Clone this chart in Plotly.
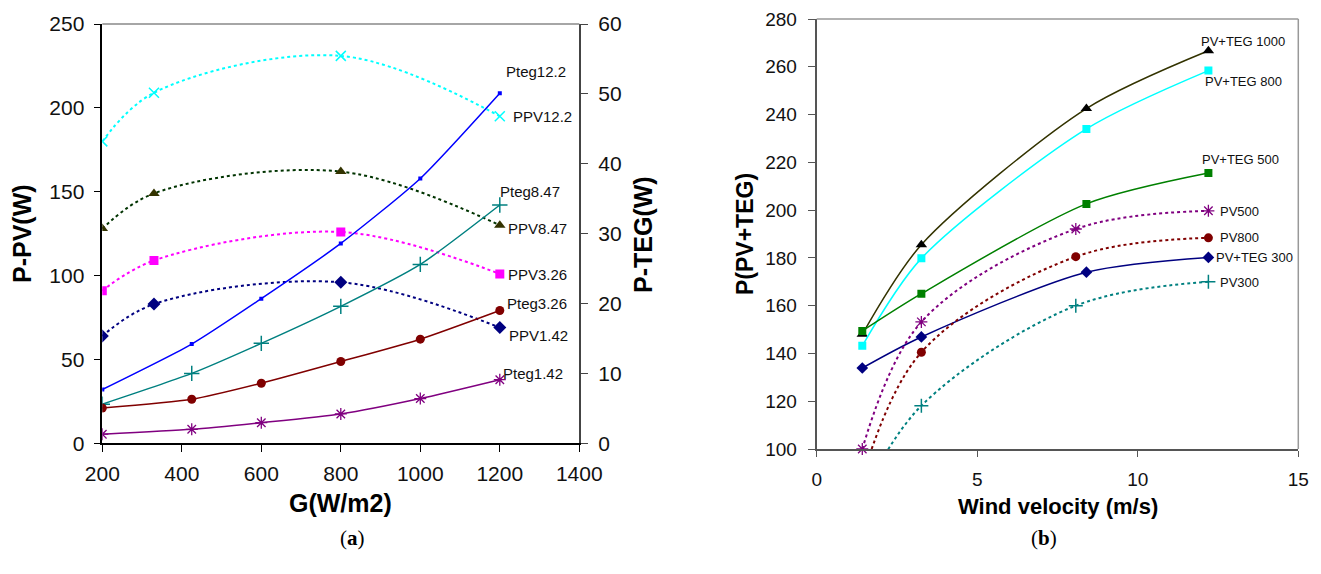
import plotly.graph_objects as go

# ---------------- data: chart (a) ----------------
G_ppv = [200, 330, 800, 1200]
ppv_12_2 = [180, 209, 231, 195]
ppv_8_47 = [128, 149, 162, 130]
ppv_3_26 = [91, 109, 126, 101]
ppv_1_42 = [64, 83, 96, 69]

G_teg = [200, 425, 600, 800, 1000, 1200]
pteg_12_2 = [7.7, 14.2, 20.7, 28.6, 37.9, 50.1]
pteg_8_47 = [5.6, 10.0, 14.3, 19.6, 25.6, 34.1]
pteg_3_26 = [5.05, 6.3, 8.6, 11.7, 14.9, 19.0]
pteg_1_42 = [1.3, 2.0, 2.95, 4.2, 6.4, 9.1]

# ---------------- data: chart (b) ----------------
v_teg = [1.42, 3.26, 8.4, 12.2]
v_pv = [1.42, 3.26, 8.07, 12.2]
pvteg_1000 = [148, 185.5, 242.5, 266.7]
pvteg_800 = [143.2, 179.8, 234, 258.4]
pvteg_500 = [149.4, 165, 202.6, 215.5]
pvteg_300 = [133.9, 146.9, 174, 180.2]
pv_500 = [100, 153.2, 192.1, 199.7]
pv_800 = [88, 140.5, 180.5, 188.4]
pv_300 = [80, 118.1, 160, 170]

W, H = 1321, 574
FONT = "Liberation Sans, Arial, sans-serif"


def px(x, y):
    return x / W, 1 - y / H


fig = go.Figure()


def add(x, y, color, symbol, msize, dash, xa, ya, mcolor=None, lw=1.5,
        smooth=1.0, clip=True, mline=None):
    marker = dict(symbol=symbol, size=msize, color=mcolor or color)
    if mline:
        marker["line"] = dict(color=mcolor or color, width=mline)
    fig.add_trace(go.Scatter(
        x=x, y=y, mode="lines+markers", xaxis=xa, yaxis=ya,
        line=dict(color=color, width=lw, dash=dash, shape="spline", smoothing=smooth),
        marker=marker, showlegend=False, cliponaxis=clip))


# chart (a) - PV power (left axis), dotted
add(G_ppv, ppv_12_2, "#00FFFF", "x-thin-open", 10, "dot", "x", "y", lw=2, mline=1.5)
add(G_ppv, ppv_8_47, "#003300", "triangle-up", 10, "dot", "x", "y", mcolor="#333300", lw=2)
add(G_ppv, ppv_3_26, "#FF00FF", "square", 9, "dot", "x", "y", lw=2)
add(G_ppv, ppv_1_42, "#000080", "diamond", 10, "dot", "x", "y", lw=2)
# chart (a) - TEG power (right axis), solid
add(G_teg, pteg_12_2, "#0000FF", "square", 4, "solid", "x", "y2", smooth=0.6)
add(G_teg, pteg_8_47, "#008080", "cross-thin-open", 11, "solid", "x", "y2", smooth=0.6, mline=1.5)
add(G_teg, pteg_3_26, "#800000", "circle", 9, "solid", "x", "y2", smooth=0.6)
add(G_teg, pteg_1_42, "#800080", "asterisk-open", 10, "solid", "x", "y2", smooth=0.6, mline=1.3)

# chart (b)
add(v_teg, pvteg_1000, "#333300", "triangle-up", 10, "solid", "x2", "y3", mcolor="#000000", smooth=0.8)
add(v_teg, pvteg_800, "#00FFFF", "square", 8, "solid", "x2", "y3", smooth=0.8)
add(v_teg, pvteg_500, "#008000", "square", 8, "solid", "x2", "y3", smooth=0.8)
add(v_teg, pvteg_300, "#000080", "diamond", 9, "solid", "x2", "y3", smooth=0.8)
add(v_pv, pv_500, "#800080", "asterisk-open", 10, "dot", "x2", "y3", lw=2, clip=False, mline=1.3)
add(v_pv, pv_800, "#800000", "circle", 9, "dot", "x2", "y3", lw=2)
add(v_pv, pv_300, "#008080", "cross-thin-open", 10, "dot", "x2", "y3", lw=2, mline=1.5)

tickfont_a = dict(family=FONT, size=21, color="#111")
tickfont_b = dict(family=FONT, size=19, color="#111")

xa0, ya0 = px(102.3, 443.3)
xa1, ya1 = px(579.3, 24)
xb0, yb0 = px(816.7, 449)
xb1, yb1 = px(1298.3, 19)

fig.update_layout(
    width=W, height=H, margin=dict(l=0, r=0, t=0, b=0, autoexpand=False),
    paper_bgcolor="white", plot_bgcolor="white",
    xaxis=dict(domain=[xa0, xa1], range=[200, 1400], dtick=200, anchor="y",
               showgrid=False, zeroline=False, showline=True, linecolor="black",
               linewidth=1.5, ticks="outside", ticklen=7, tickcolor="black",
               tickfont=tickfont_a, ticklabelstandoff=4, automargin=False),
    yaxis=dict(domain=[ya0, ya1], range=[0, 250], dtick=50, anchor="x",
               showgrid=False, zeroline=False, showline=True, linecolor="black",
               linewidth=1.5, ticks="outside", ticklen=7, tickcolor="black",
               tickfont=tickfont_a, ticklabelstandoff=5, automargin=False),
    yaxis2=dict(overlaying="y", side="right", range=[0, 60], dtick=10, anchor="x",
                showgrid=False, zeroline=False, showline=True, linecolor="#444",
                linewidth=1.5, ticks="outside", ticklen=7, tickcolor="#444",
                tickfont=tickfont_a, ticklabelstandoff=6, automargin=False),
    xaxis2=dict(domain=[xb0, xb1], range=[0, 15], dtick=5, anchor="y3",
                showgrid=False, zeroline=False, showline=True, linecolor="#555",
                linewidth=2, ticks="outside", ticklen=6, tickcolor="#555",
                tickfont=tickfont_b, ticklabelstandoff=6, automargin=False),
    yaxis3=dict(domain=[yb0, yb1], range=[100, 280], dtick=20, anchor="x2",
                showgrid=False, zeroline=False, showline=True, linecolor="#555",
                linewidth=2, ticks="outside", ticklen=7, tickcolor="#555",
                tickfont=tickfont_b, ticklabelstandoff=7, automargin=False),
)

# frame lines (top of chart a, top/right of chart b)
fig.add_shape(type="line", xref="paper", yref="paper", x0=xa0, x1=xa1, y0=ya1, y1=ya1,
              line=dict(color="#888", width=1.5))
fig.add_shape(type="line", xref="paper", yref="paper", x0=xb0, x1=xb1, y0=yb1, y1=yb1,
              line=dict(color="#999", width=1.5))
fig.add_shape(type="line", xref="paper", yref="paper", x0=xb1, x1=xb1, y0=yb0, y1=yb1,
              line=dict(color="#999", width=1.5))


def label(text, x, y, size=15, bold=False, angle=0, family=FONT, color="#111"):
    ax, ay = px(x, y)
    fig.add_annotation(text=f"<b>{text}</b>" if bold else text, x=ax, y=ay,
                       xref="paper", yref="paper", showarrow=False, textangle=angle,
                       xanchor="center", yanchor="middle",
                       font=dict(family=family, size=size, color=color))


# series labels chart (a)
for t, x, y in [("Pteg12.2", 536, 72), ("PPV12.2", 542, 116), ("Pteg8.47", 530, 191),
                ("PPV8.47", 537, 229), ("PPV3.26", 537, 274), ("Pteg3.26", 537, 303),
                ("PPV1.42", 538, 335), ("Pteg1.42", 533, 373)]:
    label(t, x, y, size=15)

# series labels chart (b)
for t, x, y in [("PV+TEG 1000", 1243, 42), ("PV+TEG 800", 1243, 82), ("PV+TEG 500", 1240, 160),
                ("PV500", 1239, 211), ("PV800", 1239, 238), ("PV+TEG 300", 1254, 257),
                ("PV300", 1239, 282)]:
    label(t, x, y, size=13)

# axis titles
label("P-PV(W)", 22, 234, size=25, bold=True, angle=-90, color="black")
label("P-TEG(W)", 643, 235, size=25, bold=True, angle=-90, color="black")
label("G(W/m2)", 340, 503, size=25, bold=True, color="black")
label("P(PV+TEG)", 745, 234, size=23, bold=True, angle=-90, color="black")
label("Wind velocity (m/s)", 1058, 506, size=22, bold=True, color="black")

# panel labels
fig.add_annotation(text="(<b>a</b>)", x=338 / W, y=1 - 552 / H, xref="paper", yref="paper",
                   showarrow=False, font=dict(family="Liberation Serif, serif", size=21, color="black"))
fig.add_annotation(text="(<b>b</b>)", x=1059 / W, y=1 - 552 / H, xref="paper", yref="paper",
                   showarrow=False, font=dict(family="Liberation Serif, serif", size=21, color="black"))

fig.write_html("out.html", config={"displayModeBar": False},
               post_script="document.body.style.margin='0';")
